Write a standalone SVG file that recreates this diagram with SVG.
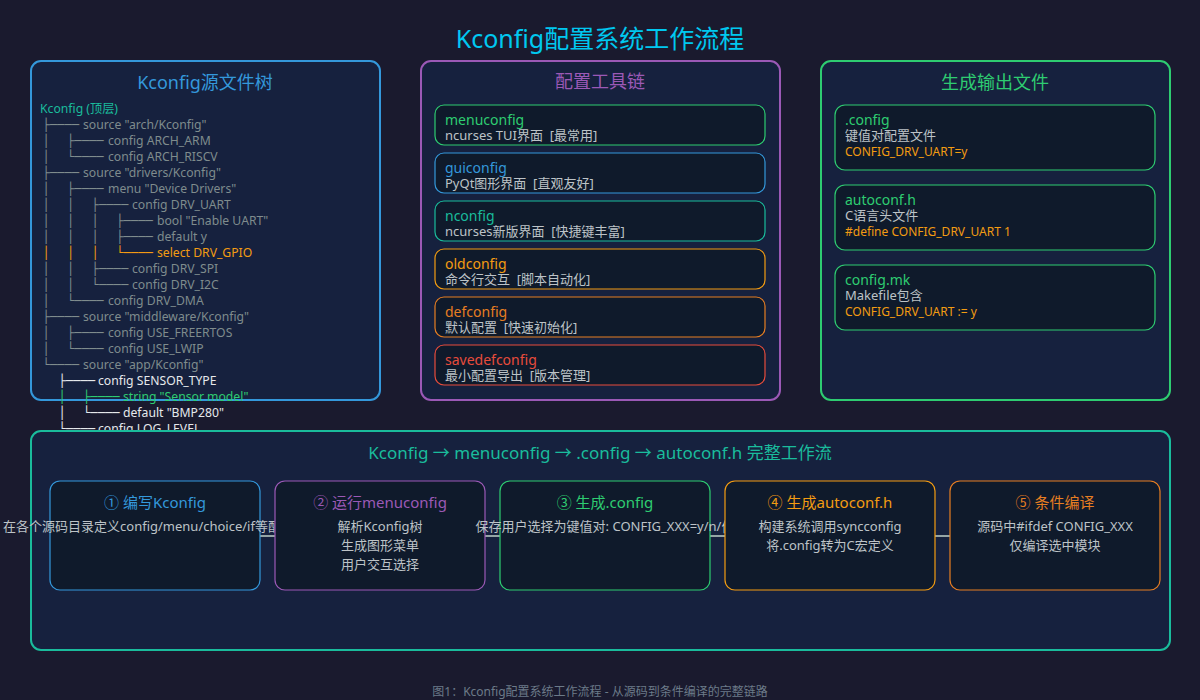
<svg xmlns="http://www.w3.org/2000/svg" width="1200" height="700" viewBox="0 0 1200 700">
<style>
text{font-family:"Noto Sans","Noto Sans CJK SC",sans-serif;}
.bx{font-family:"DejaVu Sans Mono",monospace;}
.panel{fill:#16213e;stroke-width:2;}
.item{fill:#0f1a2b;stroke-width:1.2;}
.ptitle{font-size:18px;text-anchor:middle;}
.tr{font-size:12.2px;fill:#7f8c8d;}
.tw{fill:#e6e9ec;}
.to{fill:#f39c12;}
.tg{fill:#2ecc71;}
.nm{font-size:14px;}
.ds{font-size:13px;fill:#bdc3c7;}
.cd{font-size:12px;fill:#f39c12;}
.st{font-size:15px;text-anchor:middle;}
.sd{font-size:13px;fill:#bdc3c7;text-anchor:middle;}
.conn{stroke:#95a5a6;stroke-width:2;fill:none;}
</style>
<rect x="0" y="0" width="1200" height="700" fill="#1a1a2e"/>
<text x="600" y="48" font-size="25" fill="#00c8f0" text-anchor="middle">Kconfig配置系统工作流程</text>

<g id="source-tree">
<rect class="panel" x="31" y="61" width="349" height="339" rx="10" stroke="#3498db"/>
<text class="ptitle" x="205" y="89" fill="#3498db">Kconfig源文件树</text>
<text class="tr" x="40" y="113" style="fill:#1abc9c">Kconfig (顶层)</text>
<text class="tr" y="129"><tspan class="bx" x="42.4">├────</tspan><tspan x="83">source "arch/Kconfig"</tspan></text>
<text class="tr" y="145"><tspan class="bx" x="42.4">│</tspan><tspan class="bx" x="67">├────</tspan><tspan x="108">config ARCH_ARM</tspan></text>
<text class="tr" y="161"><tspan class="bx" x="42.4">│</tspan><tspan class="bx" x="67">└────</tspan><tspan x="108">config ARCH_RISCV</tspan></text>
<text class="tr" y="177"><tspan class="bx" x="42.4">├────</tspan><tspan x="83">source "drivers/Kconfig"</tspan></text>
<text class="tr" y="193"><tspan class="bx" x="42.4">│</tspan><tspan class="bx" x="67">├────</tspan><tspan x="108">menu "Device Drivers"</tspan></text>
<text class="tr" y="209"><tspan class="bx" x="42.4">│</tspan><tspan class="bx" x="67">│</tspan><tspan class="bx" x="91.6">├────</tspan><tspan x="132">config DRV_UART</tspan></text>
<text class="tr" y="225"><tspan class="bx" x="42.4">│</tspan><tspan class="bx" x="67">│</tspan><tspan class="bx" x="91.6">│</tspan><tspan class="bx" x="116.2">├────</tspan><tspan x="157">bool "Enable UART"</tspan></text>
<text class="tr" y="241"><tspan class="bx" x="42.4">│</tspan><tspan class="bx" x="67">│</tspan><tspan class="bx" x="91.6">│</tspan><tspan class="bx" x="116.2">├────</tspan><tspan x="157">default y</tspan></text>
<text class="tr to" y="257"><tspan class="bx" x="42.4">│</tspan><tspan class="bx" x="67">│</tspan><tspan class="bx" x="91.6">│</tspan><tspan class="bx" x="116.2">└────</tspan><tspan x="157">select DRV_GPIO</tspan></text>
<text class="tr" y="273"><tspan class="bx" x="42.4">│</tspan><tspan class="bx" x="67">│</tspan><tspan class="bx" x="91.6">├────</tspan><tspan x="132">config DRV_SPI</tspan></text>
<text class="tr" y="289"><tspan class="bx" x="42.4">│</tspan><tspan class="bx" x="67">│</tspan><tspan class="bx" x="91.6">└────</tspan><tspan x="132">config DRV_I2C</tspan></text>
<text class="tr" y="305"><tspan class="bx" x="42.4">│</tspan><tspan class="bx" x="67">└────</tspan><tspan x="108">config DRV_DMA</tspan></text>
<text class="tr" y="321"><tspan class="bx" x="42.4">├────</tspan><tspan x="83">source "middleware/Kconfig"</tspan></text>
<text class="tr" y="337"><tspan class="bx" x="42.4">│</tspan><tspan class="bx" x="67">├────</tspan><tspan x="108">config USE_FREERTOS</tspan></text>
<text class="tr" y="353"><tspan class="bx" x="42.4">│</tspan><tspan class="bx" x="67">└────</tspan><tspan x="108">config USE_LWIP</tspan></text>
<text class="tr" y="369"><tspan class="bx" x="42.4">└────</tspan><tspan x="83">source "app/Kconfig"</tspan></text>
<text class="tr tw" y="385"><tspan class="bx" x="58.4">├────</tspan><tspan x="98">config SENSOR_TYPE</tspan></text>
<text class="tr tg" y="401"><tspan class="bx" x="58.4">│</tspan><tspan class="bx" x="83">├────</tspan><tspan x="123">string "Sensor model"</tspan></text>
<text class="tr tw" y="417"><tspan class="bx" x="58.4">│</tspan><tspan class="bx" x="83">└────</tspan><tspan x="123">default "BMP280"</tspan></text>
<text class="tr tw" y="433"><tspan class="bx" x="58.4">└────</tspan><tspan x="98">config LOG_LEVEL</tspan></text>
</g>

<g id="toolchain">
<rect class="panel" x="421" y="61" width="359" height="339" rx="10" stroke="#9b59b6"/>
<text class="ptitle" x="600" y="88" fill="#9b59b6">配置工具链</text>
<g id="tool-menuconfig">
<rect class="item" x="435" y="105" width="330" height="40" rx="9" stroke="#2ecc71"/>
<text class="nm" x="445" y="125" fill="#2ecc71">menuconfig</text>
<text class="ds" x="445" y="140">ncurses TUI界面&#160;&#160;[最常用]</text>
</g>
<g id="tool-guiconfig">
<rect class="item" x="435" y="153" width="330" height="40" rx="9" stroke="#3498db"/>
<text class="nm" x="445" y="173" fill="#3498db">guiconfig</text>
<text class="ds" x="445" y="188">PyQt图形界面&#160;&#160;[直观友好]</text>
</g>
<g id="tool-nconfig">
<rect class="item" x="435" y="201" width="330" height="40" rx="9" stroke="#1abc9c"/>
<text class="nm" x="445" y="221" fill="#1abc9c">nconfig</text>
<text class="ds" x="445" y="236">ncurses新版界面&#160;&#160;[快捷键丰富]</text>
</g>
<g id="tool-oldconfig">
<rect class="item" x="435" y="249" width="330" height="40" rx="9" stroke="#f39c12"/>
<text class="nm" x="445" y="269" fill="#f39c12">oldconfig</text>
<text class="ds" x="445" y="284">命令行交互&#160;&#160;[脚本自动化]</text>
</g>
<g id="tool-defconfig">
<rect class="item" x="435" y="297" width="330" height="40" rx="9" stroke="#e67e22"/>
<text class="nm" x="445" y="317" fill="#e67e22">defconfig</text>
<text class="ds" x="445" y="332">默认配置&#160;&#160;[快速初始化]</text>
</g>
<g id="tool-savedefconfig">
<rect class="item" x="435" y="345" width="330" height="40" rx="9" stroke="#e74c3c"/>
<text class="nm" x="445" y="365" fill="#e74c3c">savedefconfig</text>
<text class="ds" x="445" y="380">最小配置导出&#160;&#160;[版本管理]</text>
</g>
</g>

<g id="outputs">
<rect class="panel" x="821" y="61" width="349" height="339" rx="10" stroke="#2ecc71"/>
<text class="ptitle" x="995" y="89" fill="#2ecc71">生成输出文件</text>
<g id="out-config">
<rect class="item" x="835" y="105" width="320" height="65" rx="10" stroke="#2ecc71"/>
<text class="nm" x="845" y="125" fill="#2ecc71">.config</text>
<text class="ds" x="845" y="140">键值对配置文件</text>
<text class="cd" x="845" y="156">CONFIG_DRV_UART=y</text>
</g>
<g id="out-autoconf">
<rect class="item" x="835" y="185" width="320" height="65" rx="10" stroke="#2ecc71"/>
<text class="nm" x="845" y="205" fill="#2ecc71">autoconf.h</text>
<text class="ds" x="845" y="220">C语言头文件</text>
<text class="cd" x="845" y="236">#define CONFIG_DRV_UART 1</text>
</g>
<g id="out-configmk">
<rect class="item" x="835" y="265" width="320" height="65" rx="10" stroke="#2ecc71"/>
<text class="nm" x="845" y="285" fill="#2ecc71">config.mk</text>
<text class="ds" x="845" y="300">Makefile包含</text>
<text class="cd" x="845" y="316">CONFIG_DRV_UART := y</text>
</g>
</g>

<g id="workflow">
<rect class="panel" x="31" y="431" width="1139" height="219" rx="10" stroke="#1abc9c"/>
<text x="600" y="459" font-size="17" fill="#1abc9c" text-anchor="middle">Kconfig → menuconfig → .config → autoconf.h 完整工作流</text>
</g>

<g id="connectors">
<line class="conn" x1="260" y1="536" x2="275" y2="536"/>
<line class="conn" x1="485" y1="536" x2="500" y2="536"/>
<line class="conn" x1="710" y1="536" x2="725" y2="536"/>
<line class="conn" x1="935" y1="536" x2="950" y2="536"/>
</g>

<g id="step1">
<rect class="item" x="50" y="481" width="210" height="109" rx="10" stroke="#3498db"/>
<text class="st" x="155" y="508" fill="#3498db">① 编写Kconfig</text>
<text class="sd" x="155" y="531">在各个源码目录定义config/menu/choice/if等配置项</text>
</g>
<g id="step2">
<rect class="item" x="275" y="481" width="210" height="109" rx="10" stroke="#9b59b6"/>
<text class="st" x="380" y="508" fill="#9b59b6">② 运行menuconfig</text>
<text class="sd" x="380" y="531">解析Kconfig树</text>
<text class="sd" x="380" y="550">生成图形菜单</text>
<text class="sd" x="380" y="569">用户交互选择</text>
</g>
<g id="step3">
<rect class="item" x="500" y="481" width="210" height="109" rx="10" stroke="#2ecc71"/>
<text class="st" x="605" y="508" fill="#2ecc71">③ 生成.config</text>
<text class="sd" x="605" y="531">保存用户选择为键值对: CONFIG_XXX=y/n/值</text>
</g>
<g id="step4">
<rect class="item" x="725" y="481" width="210" height="109" rx="10" stroke="#f39c12"/>
<text class="st" x="830" y="508" fill="#f39c12">④ 生成autoconf.h</text>
<text class="sd" x="830" y="531">构建系统调用syncconfig</text>
<text class="sd" x="830" y="550">将.config转为C宏定义</text>
</g>
<g id="step5">
<rect class="item" x="950" y="481" width="210" height="109" rx="10" stroke="#e67e22"/>
<text class="st" x="1055" y="508" fill="#e67e22">⑤ 条件编译</text>
<text class="sd" x="1055" y="531">源码中#ifdef CONFIG_XXX</text>
<text class="sd" x="1055" y="550">仅编译选中模块</text>
</g>

<text x="600" y="696" font-size="12" fill="#6c7a89" text-anchor="middle">图1：Kconfig配置系统工作流程 - 从源码到条件编译的完整链路</text>
</svg>
